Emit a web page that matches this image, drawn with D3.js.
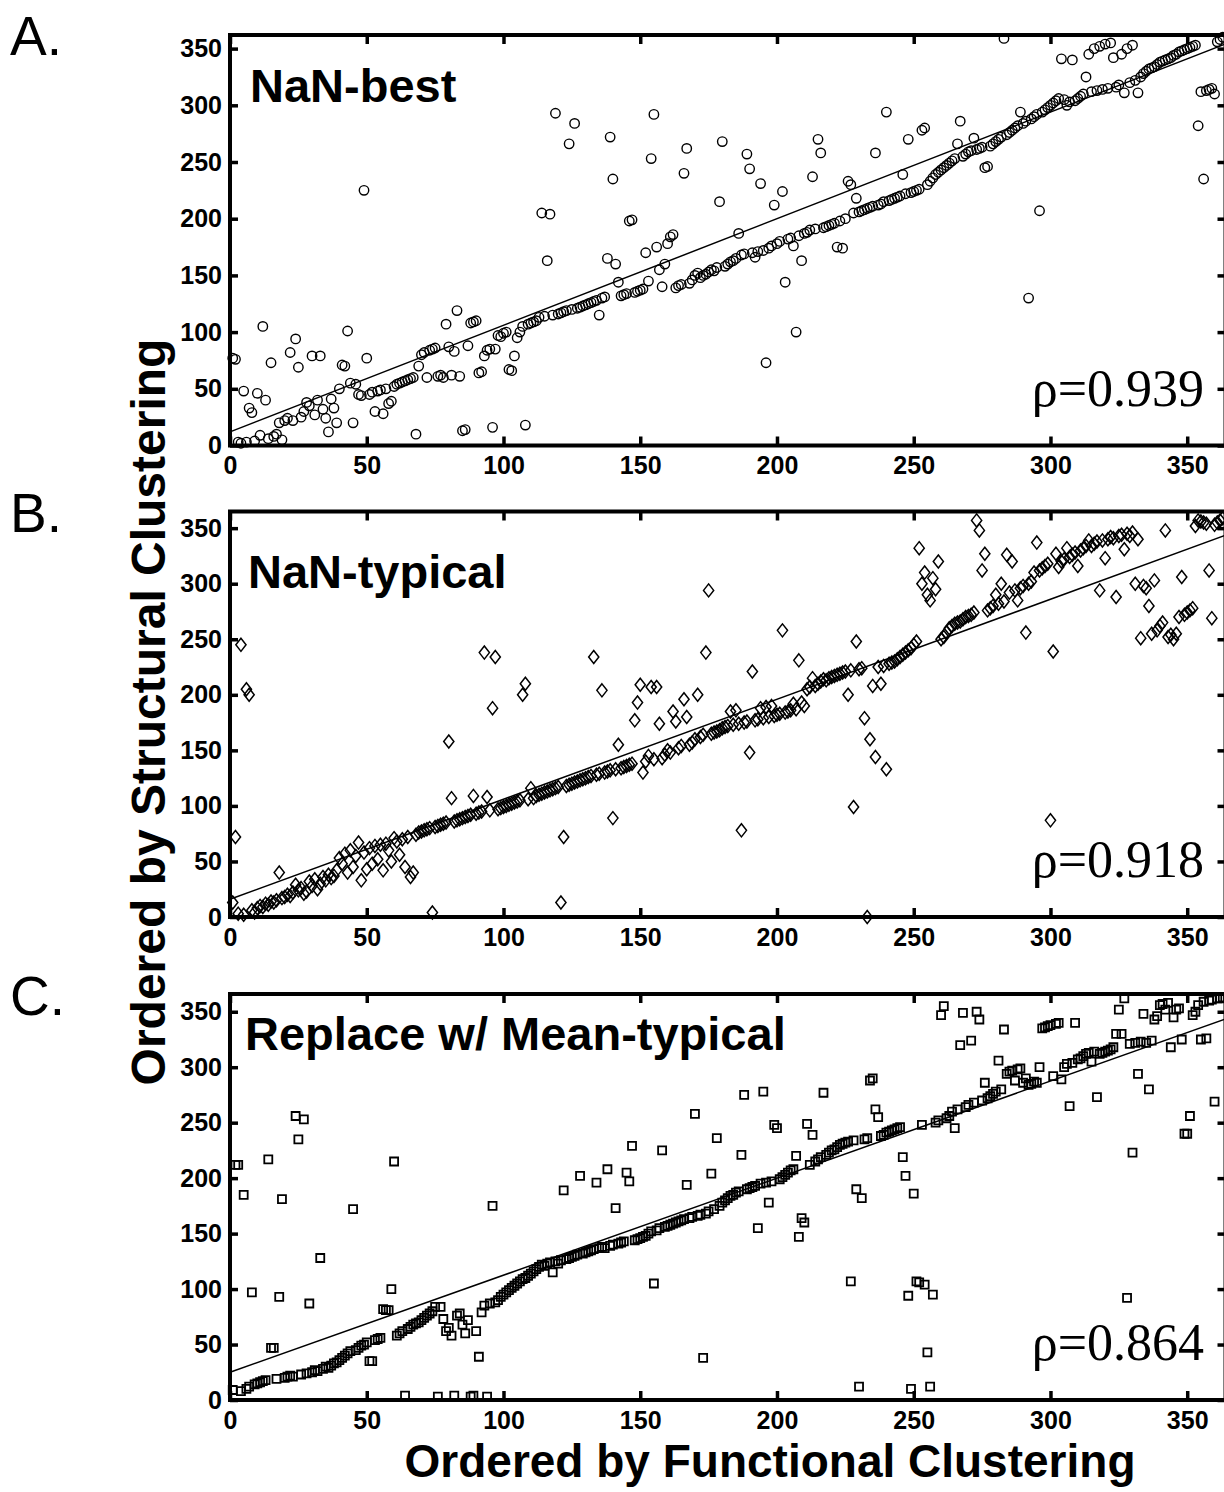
<!DOCTYPE html>
<html><head><meta charset="utf-8">
<script src="https://cdn.jsdelivr.net/npm/d3@7"></script>
<style>body{margin:0;background:#fff}</style>
</head><body><svg id="c" width="1224" height="1492"></svg>
<script>
const xTickValues = [0,50,100,150,200,250,300,350];
const yTickValues = [0,50,100,150,200,250,300,350];
const panelLetters = ["A.","B.","C."];
const panelTitles = ["NaN-best","NaN-typical","Replace w/ Mean-typical"];
const rhoLabels = ["\u03c1=0.939","\u03c1=0.918","\u03c1=0.864"];
const fitIntercept = [12,16,25];
const fitSlope = [0.94,0.90,0.875];
const xTitle = "Ordered by Functional Clustering";
const yTitle = "Ordered by Structural Clustering";

// y rank (structural) for functional rank 1..363, panel A
const rankA = [
77,76,3,2,48,3,33,29,4,46,
9,105,40,6,73,8,10,20,5,22,
24,82,22,94,69,25,30,38,35,79,
27,40,79,32,24,12,41,33,20,50,
71,70,101,55,20,54,45,44,225,77,
45,47,30,48,49,28,50,37,39,52,
54,55,56,57,58,59,60,10,70,80,
82,60,84,85,86,61,62,60,107,87,
62,83,119,61,13,14,88,108,109,110,
64,65,79,84,85,16,85,97,96,99,
100,67,66,79,95,100,105,18,107,108,
109,110,113,205,114,163,204,115,293,116,
117,118,119,266,120,284,121,122,123,124,
125,126,127,128,115,130,131,165,272,235,
160,144,132,133,134,198,199,135,136,137,
138,170,145,253,292,175,155,140,160,178,
184,186,139,141,142,240,262,143,146,150,
152,148,150,151,153,155,154,157,215,268,
158,160,162,163,165,187,168,169,257,244,
170,166,171,231,172,73,174,176,212,178,
180,224,144,182,183,176,100,185,163,187,
188,190,237,191,270,258,192,193,194,195,
196,175,198,174,200,233,230,205,218,206,
207,208,209,210,211,258,212,213,215,294,
216,217,218,219,220,239,222,270,223,224,
225,226,278,280,230,233,236,239,241,243,
245,247,249,251,253,266,286,255,257,259,
260,271,261,262,263,245,246,264,266,268,
270,272,359,274,276,278,280,282,294,284,
286,130,288,290,292,207,294,296,298,300,
302,304,306,341,305,300,303,340,304,306,
308,310,325,345,312,350,313,352,314,354,
315,355,342,316,318,345,311,350,320,353,
322,311,325,328,330,332,333,334,336,338,
339,340,341,342,344,345,347,348,349,350,
351,352,353,282,312,235,313,314,315,310,
356,358,360];

const rankB = [
13,72,3,245,2,205,200,6,4,8,
10,9,12,11,14,13,15,40,17,18,
20,19,22,29,24,26,21,23,32,28,
34,25,30,36,33,38,35,37,42,53,
48,57,40,60,45,55,67,33,58,43,
62,48,64,52,65,42,66,60,50,71,
68,56,70,45,72,36,40,74,76,77,
78,79,80,4,81,82,83,84,85,158,
107,86,87,88,89,90,91,92,109,93,
94,95,238,108,96,188,234,97,98,99,
100,101,102,103,104,105,200,210,106,116,
107,109,110,111,112,113,114,115,116,117,
13,72,118,119,120,121,122,123,124,125,
126,127,234,128,129,204,130,131,132,89,
133,155,134,135,136,137,138,177,193,209,
130,140,145,207,142,207,174,143,146,150,
148,185,176,152,154,196,180,155,157,160,
200,162,164,238,294,165,166,167,168,170,
171,172,185,173,186,174,78,175,176,148,
221,177,178,188,179,189,180,190,181,182,
183,258,184,185,186,192,187,231,193,190,
205,207,215,208,210,212,214,213,215,216,
217,218,219,220,221,200,222,99,248,223,
224,179,0,160,208,144,225,210,226,133,
228,229,230,232,234,236,238,240,242,245,
248,332,300,310,290,285,305,295,320,250,
252,256,260,262,264,265,266,268,270,271,
272,274,357,348,312,327,276,278,280,290,
282,300,284,326,292,320,294,285,296,298,
256,300,302,310,337,312,314,316,318,87,
239,327,315,320,322,332,324,326,328,316,
330,332,334,339,334,336,338,294,339,323,
340,342,341,288,343,344,331,345,343,346,
300,340,251,298,296,280,255,303,258,262,
265,348,252,254,250,255,270,306,272,274,
276,278,352,357,356,355,354,312,269,353,
355,357,359];

const rankC = [
9,212,212,8,185,10,12,97,14,15,
16,17,18,217,47,47,19,93,181,20,
21,22,21,256,235,23,253,24,87,25,
27,26,128,28,30,29,31,33,34,36,
38,40,42,44,172,45,47,49,50,52,
35,35,54,55,56,82,81,81,100,215,
58,60,62,4,64,66,68,69,70,72,
74,76,78,80,84,3,84,73,62,65,
58,4,76,78,68,60,72,3,4,62,
39,79,85,3,87,175,88,90,93,95,
97,99,101,103,105,107,109,110,112,114,
116,118,120,122,121,123,124,115,125,123,
126,189,127,128,129,130,131,202,132,133,
134,135,136,196,137,138,137,208,139,140,
173,141,142,143,205,197,229,144,145,146,
147,148,150,152,105,153,155,225,156,157,
158,159,160,161,162,163,194,164,165,258,
166,167,38,168,170,204,172,236,175,178,
180,182,184,185,187,188,221,275,190,191,
192,193,155,195,278,196,178,197,248,245,
199,201,203,205,207,208,220,147,164,160,
249,212,239,215,217,219,277,221,223,225,
226,228,230,231,232,233,107,234,190,12,
182,235,236,288,290,262,255,238,239,241,
242,243,244,245,246,219,202,94,10,186,
107,106,248,104,43,12,95,250,252,347,
355,254,256,260,245,262,320,349,264,266,
324,268,350,343,270,286,272,274,276,278,
306,280,334,294,296,297,288,298,299,286,
290,284,285,287,286,300,335,336,337,338,
292,339,340,289,300,303,265,304,340,307,
308,310,312,313,305,314,273,312,313,314,
315,316,318,330,352,330,362,92,321,223,
322,294,323,348,322,280,324,343,346,356,
357,352,358,318,345,352,353,325,240,240,
256,347,350,356,325,359,326,360,361,269,
362,362,363];

const panelData = [rankA, rankB, rankC];

const svg = d3.select("#c");
const x = d3.scaleLinear().domain([0,364]).range([230,1225.5]);
const geoms = [
  {top:35, bottom:445.5, ymax:362, titleY:102, letterY:55},
  {top:511.5, bottom:917, ymax:365, titleY:588, letterY:532},
  {top:994, bottom:1400, ymax:366, titleY:1050, letterY:1015}
];

const diamondType = {draw(ctx, size){ const h=Math.sqrt(size)*0.78, w=h*0.78; ctx.moveTo(0,-h); ctx.lineTo(w,0); ctx.lineTo(0,h); ctx.lineTo(-w,0); ctx.closePath(); }};
const symbols = [
  d3.symbol().type(d3.symbolCircle).size(70),
  d3.symbol().type(diamondType).size(70),
  d3.symbol().type(d3.symbolSquare).size(64)
];
const strokeW = [1.4,1.5,1.8];
const fontAx = "'Liberation Sans', Arial, Helvetica, sans-serif";

geoms.forEach((gm, i) => {
  const y = d3.scaleLinear().domain([0, gm.ymax]).range([gm.bottom, gm.top]);
  const g = svg.append("g");
  g.append("line")
    .attr("x1", x(0)).attr("y1", y(fitIntercept[i]))
    .attr("x2", x(364)).attr("y2", y(fitIntercept[i] + fitSlope[i]*364))
    .attr("stroke","#000").attr("stroke-width",1.5);
  g.append("g").selectAll("path").data(panelData[i]).join("path")
    .attr("transform",(d,j)=>`translate(${x(j+1)},${y(d)})`)
    .attr("d", symbols[i])
    .attr("fill","none").attr("stroke","#000").attr("stroke-width",strokeW[i]);
  const bx = g.append("g").attr("transform",`translate(0,${gm.bottom})`)
    .call(d3.axisBottom(x).tickValues(xTickValues).tickSize(-9).tickPadding(11));
  const tx = g.append("g").attr("transform",`translate(0,${gm.top})`)
    .call(d3.axisTop(x).tickValues(xTickValues).tickSize(-9).tickFormat(""));
  const ly = g.append("g").attr("transform",`translate(${x(0)},0)`)
    .call(d3.axisLeft(y).tickValues(yTickValues).tickSize(-8).tickPadding(8));
  const ry = g.append("g").attr("transform",`translate(${x(364)},0)`)
    .call(d3.axisRight(y).tickValues(yTickValues).tickSize(-8).tickFormat(""));
  [bx,tx,ly,ry].forEach(a => {
    a.select(".domain").remove();
    a.selectAll(".tick line").attr("stroke","#000").attr("stroke-width",3.5);
    a.selectAll(".tick text").attr("fill","#000")
      .style("font-family",fontAx).style("font-weight","bold").style("font-size","25px");
  });
  g.append("rect").attr("x",x(0)).attr("y",gm.top)
    .attr("width",x(364)-x(0)).attr("height",gm.bottom-gm.top)
    .attr("fill","none").attr("stroke","#000").attr("stroke-width",4);
  g.append("text").attr("x", i===0?250:(i===1?248:245)).attr("y", gm.titleY)
    .style("font-family",fontAx).style("font-weight","bold").style("font-size","47px")
    .text(panelTitles[i]);
  g.append("text").attr("x",1204).attr("y",gm.bottom-40).attr("text-anchor","end")
    .style("font-family","'Liberation Serif', 'Times New Roman', serif").style("font-size","52px")
    .text(rhoLabels[i]);
  svg.append("text").attr("x",10).attr("y",gm.letterY)
    .style("font-family",fontAx).style("font-size","55px")
    .text(panelLetters[i]);
});

svg.append("text").attr("transform","translate(165,712) rotate(-90)").attr("text-anchor","middle")
  .style("font-family",fontAx).style("font-weight","bold").style("font-size","48px")
  .text(yTitle);
svg.append("text").attr("x",770).attr("y",1477).attr("text-anchor","middle")
  .style("font-family",fontAx).style("font-weight","bold").style("font-size","46px")
  .text(xTitle);
</script></body></html>
